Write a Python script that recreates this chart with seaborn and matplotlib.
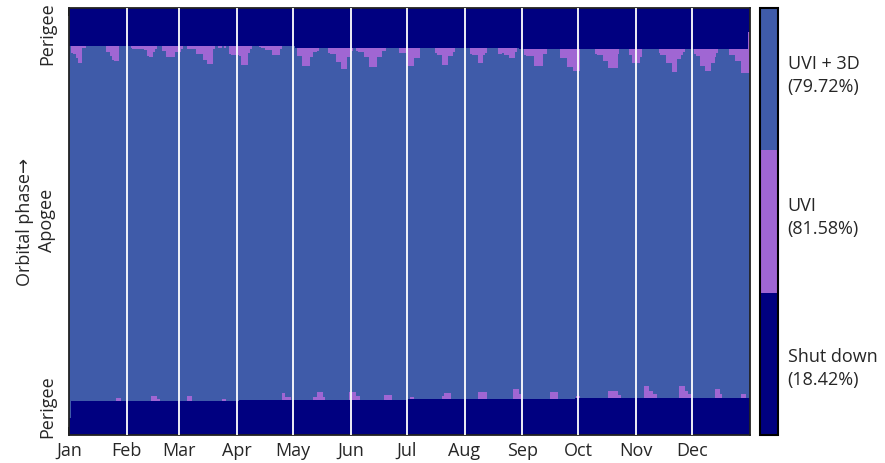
import numpy as np
import matplotlib
matplotlib.use("Agg")
import matplotlib.pyplot as plt
from matplotlib.colors import ListedColormap
import seaborn as sns

sns.set_style("white")
plt.rcParams["font.family"] = ["Open Sans", "DejaVu Sans"]

# ---------------------------------------------------------------------------
# Operating modes per day of the year and per orbital phase bin
# 0 = shut down, 1 = UVI only, 2 = UVI + 3D
# ---------------------------------------------------------------------------
N_DAYS = 365
N_PHASE = 420  # phase bins, perigee (0) -> apogee (N/2) -> perigee (N)

MODE_NAMES = ["Shut down", "UVI", "UVI + 3D"]
MODE_SHARES = ["18.42%", "81.58%", "79.72%"]
MODE_COLORS = ["#000080", "#A066D3", "#3F5BA9"]

MONTHS = ["Jan", "Feb", "Mar", "Apr", "May", "Jun",
          "Jul", "Aug", "Sep", "Oct", "Nov", "Dec"]
MONTH_START_DAY = [0, 31, 59, 90, 120, 151, 181, 212, 243, 273, 304, 334]

PHASE_LABELS = ["Perigee", "Apogee", "Perigee"]

# shut-down extent after perigee (bins from phase 0), as (first day, bins)
LOW_SHUTDOWN_STEPS = [(0, 17), (1, 33), (91, 34), (181, 35), (271, 36)]
# shut-down extent before perigee (bins below phase 1), as (first day, bins)
HIGH_SHUTDOWN_STEPS = [(0, 37), (121, 39), (241, 40), (364, 24)]

# UVI-only stretches just before the shut-down near the end of the orbit
HIGH_UVI_START = [1, 20, 33, 50, 63, 80, 86, 102, 122, 139, 154, 177, 196,
                  215, 230, 244, 263, 282, 300, 316, 335, 354]
HIGH_UVI_DEPTH = [
    [7, 8, 8, 12, 17, 17, 2, 2],
    [6, 6, 10, 14, 15, 15, 15],
    [2, 3, 3, 3, 3, 3, 3, 4, 4, 10, 11, 11, 6, 3],
    [5, 5, 11, 11, 11, 11, 11, 6, 6, 6, 3],
    [3, 3, 3, 3, 3, 8, 8, 8, 8, 14, 14, 18, 18, 18, 3],
    [2, 2, 0, 2],
    [8, 9, 9, 9, 9, 10, 19, 19, 19, 19, 7, 3],
    [1, 2, 2, 4, 4, 4, 4, 9, 9, 9, 9, 3],
    [8, 8, 8, 18, 18, 18, 18, 9, 9, 4, 4, 3],
    [5, 6, 6, 6, 14, 14, 14, 21, 21, 21, 9, 9, 3],
    [3, 4, 4, 4, 9, 9, 9, 19, 19, 19, 19, 9, 9, 9, 3, 3],
    [5, 5, 5, 5, 18, 18, 18, 18, 10, 10, 10],
    [5, 7, 7, 7, 17, 17, 17, 8, 8, 8, 4],
    [6, 7, 7, 7, 15, 15, 15, 7, 5],
    [6, 6, 5, 7, 7, 7, 10, 10, 10, 4],
    [6, 7, 7, 7, 7, 17, 17, 17, 17, 17, 5, 5],
    [9, 9, 9, 9, 18, 18, 18, 22, 22, 22, 22],
    [5, 6, 6, 6, 12, 12, 12, 19, 19, 19, 19, 19, 5],
    [6, 6, 14, 14, 14, 14, 8],
    [4, 6, 6, 6, 14, 14, 14, 23, 23, 23, 10, 10, 6, 3],
    [5, 7, 7, 17, 17, 17, 22, 22, 22, 14, 14, 8, 4],
    [6, 6, 6, 12, 12, 12, 24, 24, 24, 24, 40],
]

# UVI-only stretches just after the shut-down at the start of the orbit
LOW_UVI_START = [25, 44, 63, 82, 114, 131, 150, 169, 183, 200, 219, 238,
                 258, 272, 289, 308, 327, 346, 360]
LOW_UVI_HEIGHT = [
    [3, 3, 3],
    [5, 5, 5, 2, 2],
    [5, 5, 5],
    [2, 2],
    [7, 7, 3, 3, 3],
    [3, 3, 8, 8, 8, 3],
    [8, 8, 8, 8, 4, 4],
    [5, 5, 5, 5],
    [2, 2],
    [3, 6, 6, 6, 6],
    [7, 7, 7, 7, 7],
    [10, 10, 10, 5, 5],
    [7, 7, 7, 7],
    [2, 2],
    [7, 7, 7, 7, 7, 3, 3],
    [12, 12, 12, 7, 7, 4, 4],
    [12, 12, 12, 7, 7, 4, 4],
    [9, 9, 9, 4],
    [4, 4, 4],
]


def step_value(steps, day):
    value = steps[0][1]
    for first, v in steps:
        if day >= first:
            value = v
    return value


low_edge = [step_value(LOW_SHUTDOWN_STEPS, d) for d in range(N_DAYS)]
high_edge = [N_PHASE - step_value(HIGH_SHUTDOWN_STEPS, d) for d in range(N_DAYS)]

modes = np.full((N_PHASE, N_DAYS), 2, dtype=int)
for d in range(N_DAYS):
    modes[:low_edge[d], d] = 0
    modes[high_edge[d]:, d] = 0
for start, depths in zip(HIGH_UVI_START, HIGH_UVI_DEPTH):
    for k, h in enumerate(depths):
        d = start + k
        modes[high_edge[d] - h:high_edge[d], d] = 1
for start, heights in zip(LOW_UVI_START, LOW_UVI_HEIGHT):
    for k, h in enumerate(heights):
        d = start + k
        modes[low_edge[d]:low_edge[d] + h, d] = 1

# ---------------------------------------------------------------------------
FS = 13
fig = plt.figure(figsize=(8.85, 4.63), dpi=100)
ax = fig.add_axes([69 / 885, 28 / 463, 681 / 885, 427 / 463])
cax = fig.add_axes([760 / 885, 28 / 463, 18 / 885, 427 / 463])

cmap = ListedColormap(MODE_COLORS)
sns.heatmap(modes, ax=ax, cbar_ax=cax, cmap=cmap, vmin=-0.5, vmax=2.5,
            xticklabels=False, yticklabels=False, rasterized=True)
ax.invert_yaxis()

# month separators
for day in MONTH_START_DAY[1:]:
    ax.axvline(day, color="white", lw=1.3, zorder=3)

ax.set_xticks(MONTH_START_DAY)
ax.set_xticklabels(MONTHS, fontsize=FS)
ax.tick_params(axis="x", direction="in", length=6, width=1.4, color="black",
               top=True, bottom=True, pad=5)

ax.set_yticks([0.066 * N_PHASE, 0.503 * N_PHASE, 0.94 * N_PHASE])
ax.set_yticklabels(PHASE_LABELS, rotation=90, va="center", fontsize=FS)
ax.tick_params(axis="y", length=0, pad=9)
ax.set_ylabel("Orbital phase\u2192", fontsize=FS, labelpad=3)

for s in ax.spines.values():
    s.set_visible(True)
    s.set_color("#222222")
    s.set_linewidth(1.3)

# colorbar with mode names and time shares
cbar = ax.collections[0].colorbar
cbar.set_ticks([0, 1.06, 2.055])
cbar.set_ticklabels([f"{n}\n({p})" for n, p in zip(MODE_NAMES, MODE_SHARES)])
cax.tick_params(length=0, pad=7)
for lbl in cax.get_yticklabels():
    lbl.set_fontsize(FS)
    lbl.set_linespacing(1.35)
cbar.outline.set_visible(True)
cbar.outline.set_edgecolor("black")
cbar.outline.set_linewidth(1.5)

fig.savefig("out.png", dpi=100)
